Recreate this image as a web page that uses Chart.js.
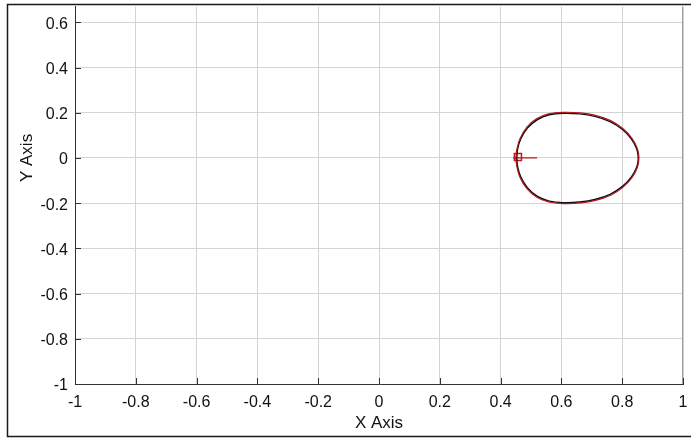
<!DOCTYPE html>
<html>
<head>
<meta charset="utf-8">
<script src="https://cdn.jsdelivr.net/npm/chart.js@4.4.1/dist/chart.umd.min.js"></script>
<style>
  html, body { margin: 0; padding: 0; background: #ffffff; }
  #wrap { width: 691px; height: 439px; }
</style>
</head>
<body>
<div id="wrap"><canvas id="c" width="691" height="439"></canvas></div>
<script>
// ---- data ----
const xTickValues = [-1, -0.8, -0.6, -0.4, -0.2, 0, 0.2, 0.4, 0.6, 0.8, 1];
const xTickLabels = ['-1', '-0.8', '-0.6', '-0.4', '-0.2', '0', '0.2', '0.4', '0.6', '0.8', '1'];
const yTickValues = [-1, -0.8, -0.6, -0.4, -0.2, 0, 0.2, 0.4, 0.6];
const yTickLabels = ['-1', '-0.8', '-0.6', '-0.4', '-0.2', '0', '0.2', '0.4', '0.6'];
const xAxisTitle = 'X Axis';
const yAxisTitle = 'Y Axis';

// black trajectory (closed loop)
const blackX = [0.453, 0.456, 0.466, 0.488, 0.520, 0.560, 0.610, 0.660, 0.710, 0.760, 0.800, 0.830, 0.848, 0.853,
                0.848, 0.830, 0.800, 0.760, 0.710, 0.660, 0.610, 0.560, 0.520, 0.488, 0.466, 0.456, 0.453];
const blackY = [0.000, 0.040, 0.084, 0.132, 0.169, 0.191, 0.198, 0.195, 0.184, 0.161, 0.127, 0.085, 0.040, 0.000,
                -0.040, -0.085, -0.127, -0.161, -0.184, -0.195, -0.198, -0.191, -0.169, -0.132, -0.084, -0.040, 0.000];

// red trajectory (closed loop, slightly offset)
const redX = [0.450, 0.454, 0.464, 0.486, 0.518, 0.558, 0.610, 0.662, 0.712, 0.762, 0.802, 0.832, 0.850, 0.855,
              0.850, 0.832, 0.802, 0.762, 0.712, 0.662, 0.610, 0.558, 0.518, 0.486, 0.464, 0.454, 0.450];
const redY = [0.000, 0.041, 0.086, 0.135, 0.173, 0.195, 0.202, 0.199, 0.188, 0.165, 0.130, 0.087, 0.041, 0.000,
              -0.041, -0.087, -0.130, -0.165, -0.188, -0.199, -0.202, -0.195, -0.173, -0.135, -0.086, -0.041, 0.000];

// short red tail and start marker
const tailX = [0.441, 0.520];
const tailY = [0.000, 0.000];
const markerX = [0.457];
const markerY = [0.004];

const yMin = -1, yMax = 0.67, xMin = -1, xMax = 1;

function pts(xs, ys) { return xs.map((x, i) => ({ x: x, y: ys[i] })); }

const FONT = '"Liberation Sans", Arial, sans-serif';

const decor = {
  id: 'decor',
  afterDraw(chart) {
    const ctx = chart.ctx;
    const a = chart.chartArea;
    const xs = chart.scales.x, ys = chart.scales.y;
    ctx.save();
    // right axis line
    ctx.strokeStyle = '#9a9a9a';
    ctx.lineWidth = 1;
    ctx.beginPath();
    ctx.moveTo(Math.round(a.right) - 0.5, a.top);
    ctx.lineTo(Math.round(a.right) - 0.5, a.bottom);
    ctx.stroke();
    // inward tick marks
    ctx.strokeStyle = '#333333';
    ctx.beginPath();
    yTickValues.forEach(v => {
      const py = Math.round(ys.getPixelForValue(v)) + 0.5;
      ctx.moveTo(a.left, py); ctx.lineTo(a.left + 6, py);
    });
    xTickValues.forEach(v => {
      const px = Math.round(xs.getPixelForValue(v)) + 0.5;
      ctx.moveTo(px, a.bottom); ctx.lineTo(px, a.bottom - 6);
    });
    ctx.stroke();
    // outer frame
    ctx.strokeStyle = '#1a1a1a';
    ctx.lineWidth = 1.5;
    ctx.beginPath();
    ctx.moveTo(691, 4.5); ctx.lineTo(7.5, 4.5); ctx.lineTo(7.5, 436.5); ctx.lineTo(691, 436.5);
    ctx.stroke();
    // axis titles
    ctx.fillStyle = '#111111';
    ctx.font = '17px ' + FONT;
    ctx.textAlign = 'center';
    ctx.textBaseline = 'middle';
    ctx.fillText(xAxisTitle, xs.getPixelForValue(0), 423);
    ctx.translate(27, ys.getPixelForValue(0));
    ctx.rotate(-Math.PI / 2);
    ctx.fillText(yAxisTitle, 0, 0);
    ctx.restore();
  }
};

new Chart(document.getElementById('c'), {
  type: 'scatter',
  data: {
    datasets: [
      { data: pts(redX, redY), showLine: true, borderColor: '#b01818', borderWidth: 1.2, pointRadius: 0, tension: 0.4, fill: false },
      { data: pts(blackX, blackY), showLine: true, borderColor: '#0d0d1a', borderWidth: 1.5, pointRadius: 0, tension: 0.4, fill: false },
      { data: pts(tailX, tailY), showLine: true, borderColor: '#c01818', borderWidth: 1.2, pointRadius: 0, fill: false },
      { data: pts(markerX, markerY), showLine: false, pointStyle: 'rect', pointRadius: 5, borderColor: '#c01818', borderWidth: 1.5, backgroundColor: 'rgba(0,0,0,0)' }
    ]
  },
  options: {
    responsive: false,
    animation: false,
    layout: { padding: { left: 0, top: 4, right: 8, bottom: 0 } },
    plugins: { legend: { display: false }, tooltip: { enabled: false } },
    scales: {
      x: {
        type: 'linear', min: xMin, max: xMax,
        afterFit(s) { s.height = 55; s.paddingLeft = 0; s.paddingRight = 0; },
        afterBuildTicks(s) { s.ticks = xTickValues.map(v => ({ value: v })); },
        grid: { color: '#d4d4d4', lineWidth: 1, drawTicks: false },
        border: { display: true, color: '#333333', width: 1 },
        ticks: {
          padding: 9, color: '#111111', maxRotation: 0, autoSkip: false,
          font: { family: FONT, size: 16 },
          callback: (v, i) => xTickLabels[i]
        }
      },
      y: {
        type: 'linear', min: yMin, max: yMax,
        afterFit(s) { s.width = 75; s.paddingTop = 0; s.paddingBottom = 0; },
        afterBuildTicks(s) { s.ticks = yTickValues.map(v => ({ value: v })); },
        grid: { color: '#d4d4d4', lineWidth: 1, drawTicks: false },
        border: { display: true, color: '#333333', width: 1 },
        ticks: {
          padding: 7, color: '#111111', autoSkip: false, labelOffset: 2,
          font: { family: FONT, size: 16 },
          callback: (v, i) => yTickLabels[i]
        }
      }
    }
  },
  plugins: [decor]
});
</script>
</body>
</html>
